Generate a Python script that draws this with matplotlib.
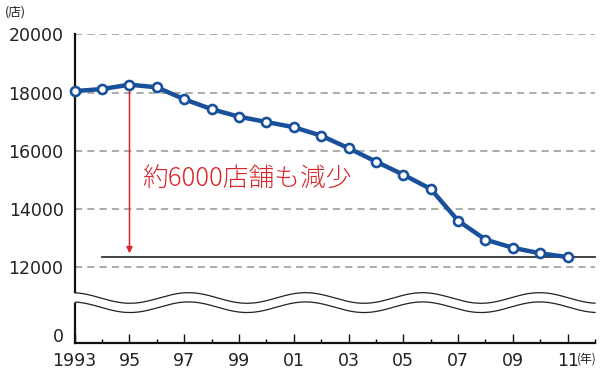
import numpy as np
import matplotlib
matplotlib.use("Agg")
import matplotlib.pyplot as plt
from matplotlib.ticker import FixedLocator, MultipleLocator

plt.rcParams['font.family'] = ['DejaVu Sans', 'Noto Sans CJK JP']

# ---- data ----
years = list(range(1993, 2012))
stores = [18050, 18120, 18270, 18180, 17770, 17430, 17170, 16990, 16810,
          16520, 16090, 15630, 15180, 14690, 13600, 12950, 12670, 12480, 12350]
x_ticks = list(range(1993, 2012, 2))
x_labels = ['1993', '95', '97', '99', '01', '03', '05', '07', '09', '11']
y_ticks = [12000, 14000, 16000, 18000, 20000]
y_labels = ['12000', '14000', '16000', '18000', '20000']
grid_values = [12000, 14000, 16000, 18000, 20000]
note = '約6000店舗も減少'

BLUE = '#18509b'
RED = '#d8262b'
INK = '#222222'
CJK = ['Noto Sans CJK JP', 'DejaVu Sans']

# broken axis: everything below 12000 squeezed into a short band
BREAK = 12000
K = 0.2157


def fwd(v):
    v = np.asarray(v, dtype=float)
    return np.where(v >= BREAK, v, BREAK - (BREAK - v) * K)


def inv(u):
    u = np.asarray(u, dtype=float)
    return np.where(u >= BREAK, u, BREAK - (BREAK - u) / K)


fig = plt.figure(figsize=(6, 3.74), dpi=100)
ax = fig.add_axes([0.1245, 0.0837, 0.8672, 0.8246])
ax.set_yscale('function', functions=(fwd, inv))
ax.set_xlim(1993, 2012)
ax.set_ylim(0, 20000)

for s in ('top', 'right'):
    ax.spines[s].set_visible(False)
for s in ('left', 'bottom'):
    ax.spines[s].set_linewidth(1.6)
    ax.spines[s].set_color('#111111')

# dashed gridlines
for g in grid_values:
    ax.axhline(g, color='#a5a5a5', lw=1.3, dashes=(4.0, 2.8), zorder=1)

# ticks
ax.xaxis.set_major_locator(FixedLocator(x_ticks))
ax.xaxis.set_minor_locator(MultipleLocator(1))
ax.set_xticklabels(x_labels)
ax.tick_params(axis='x', which='major', direction='in', length=6.5, width=1.0,
               pad=6.5, labelsize=12.5, colors='#111111', labelcolor=INK)
ax.tick_params(axis='x', which='minor', direction='in', length=3.2, width=1.0)
ax.yaxis.set_major_locator(FixedLocator(y_ticks))
ax.yaxis.set_minor_locator(FixedLocator([]))
ax.set_yticklabels(y_labels)
ax.tick_params(axis='y', length=0, pad=8.0, labelsize=12.5, colors=INK)
# the "0" of the squeezed part sits a little above the baseline
ax.annotate('0', xy=(0, 0), xycoords=('axes fraction', 'data'),
            xytext=(-8.0, 4.0), textcoords='offset points',
            ha='right', va='center', fontsize=12.5, color=INK)

# break waves (axes coordinates)
wx = np.linspace(-0.006, 1.0, 400)
period, trough = 0.2249, 0.1063
amp = 0.0172
shape = -np.cos(2 * np.pi * (wx - trough) / period)
upper = 0.145 + amp * shape
lower = 0.115 + amp * shape
ax.fill_between(wx, lower, upper, color='white', transform=ax.transAxes,
                zorder=3, clip_on=False, lw=0)
ax.plot(wx[wx >= 0], upper[wx >= 0], color=INK, lw=0.9,
        transform=ax.transAxes, zorder=3.1, clip_on=False)
ax.plot(wx[wx >= 0], lower[wx >= 0], color=INK, lw=0.9,
        transform=ax.transAxes, zorder=3.1, clip_on=False)

# reference line at the latest value
ax.plot([years[1], 2012], [stores[-1], stores[-1]], color='#333333', lw=1.3,
        zorder=2, clip_on=False)

# red arrow from the 1995 peak
peak = int(np.argmax(stores))
ax.annotate('', xy=(years[peak], stores[-2]), xytext=(years[peak], stores[peak]),
            arrowprops=dict(arrowstyle='-|>', color=RED, lw=1.1,
                            mutation_scale=9, shrinkA=3, shrinkB=0),
            zorder=2.5)
ax.text(years[peak] + 0.45, 15000, note, color=RED, fontsize=18.5,
        va='center', ha='left', family=CJK, fontweight='light')

# main series
ax.plot(years, stores, color=BLUE, lw=3.2, marker='o', markersize=6.5,
        markerfacecolor='white', markeredgecolor=BLUE, markeredgewidth=1.9,
        zorder=5, clip_on=False)

fig.text(5 / 600, 1 - 12 / 374, '(店)', fontsize=9, va='center', ha='left',
         color=INK, family=CJK)
fig.text(597 / 600, 1 - 359 / 374, '(年)', fontsize=8.5, va='center',
         ha='right', color=INK, family=CJK)

fig.savefig('out.png', dpi=100)
